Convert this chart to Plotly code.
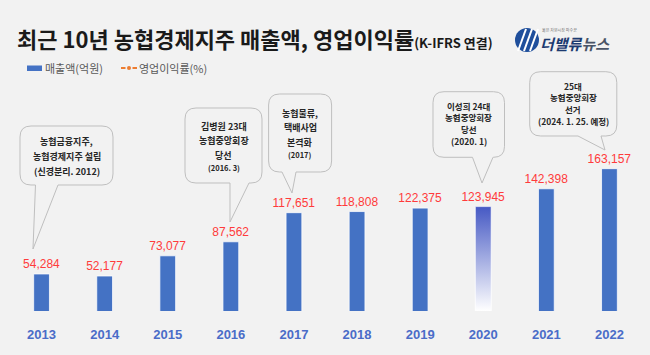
import plotly.graph_objects as go

# ---------------- data ----------------
years = [2013, 2014, 2015, 2016, 2017, 2018, 2019, 2020, 2021, 2022]
year_labels = [str(y) for y in years]
sales = [54284, 52177, 73077, 87562, 117651, 118808, 122375, 123945, 142398, 163157]
highlight_year = 2020

title_main = "최근 10년 농협경제지주 매출액, 영업이익률"
title_sub = "(K-IFRS 연결)"
legend_sales = "매출액(억원)"
legend_margin = "영업이익률(%)"

callout_texts = [
    ["농협금융지주,", "농협경제지주 설립", "(신경분리. 2012)"],
    ["김병원 23대", "농협중앙회장", "당선", "(2016. 3)"],
    ["농협물류,", "택배사업", "본격화", "(2017)"],
    ["이성희 24대", "농협중앙회장", "당선", "(2020. 1)"],
    ["25대", "농협중앙회장", "선거", "(2024. 1. 25. 예정)"],
]

# ---------------- layout constants ----------------
W, H = 650, 355
L, R, T, B = 10, 9, 60, 44
PW, PH = W - L - R, H - T - B
Y_MIN = 16000
PX_PER_UNIT = 0.0009672
Y_MAX = Y_MIN + PH / PX_PER_UNIT
BAR_W = 0.25
BG = "#f2f2f2"
BLUE = "#4472c4"
KR = "Noto Sans CJK KR"


def pp(x, y):
    """pixel (from top-left) -> paper coords"""
    return (x - L) / PW, (H - B - y) / PH


bar_colors = ["rgba(0,0,0,0)" if y == highlight_year else BLUE for y in years]

fig = go.Figure()
fig.add_trace(go.Bar(
    x=years, y=sales, width=BAR_W,
    marker=dict(color=bar_colors, line=dict(color="rgba(255,255,255,0.75)", width=1)),
    text=[f"{v:,}" for v in sales], textposition="outside", constraintext="none",
    textfont=dict(color="#ff3b3b", size=12, family="Liberation Sans Narrow, Arial Narrow, Liberation Sans, sans-serif"),
    cliponaxis=False, showlegend=False, name=legend_sales,
))

# gradient bar for highlighted year
hv = sales[years.index(highlight_year)]
fig.add_trace(go.Scatter(
    x=[highlight_year - BAR_W / 2, highlight_year + BAR_W / 2, highlight_year + BAR_W / 2,
       highlight_year - BAR_W / 2, highlight_year - BAR_W / 2],
    y=[Y_MIN, Y_MIN, hv, hv, Y_MIN],
    fill="toself", mode="lines", line=dict(color="rgba(255,255,255,0.6)", width=1),
    fillgradient=dict(type="vertical", colorscale=[[0, "#ffffff"], [1, "#4659c4"]]),
    showlegend=False, hoverinfo="skip",
))

shapes = []
annotations = []

# title
x0, y0 = pp(15, 38)
annotations.append(dict(
    x=x0, y=y0, xref="paper", yref="paper", xanchor="left", yanchor="middle", showarrow=False,
    text=f"<b>{title_main}</b><b><span style='font-size:13px'>{title_sub}</span></b>",
    font=dict(family=KR, size=22, color="#1a1a1a"),
))

# logo
cx, cy = 527, 40
a0 = pp(cx - 12, cy - 12); a1 = pp(cx + 12, cy + 12)
shapes.append(dict(type="circle", xref="paper", yref="paper", x0=a0[0], y0=a1[1], x1=a1[0], y1=a0[1],
                   fillcolor="#1f4f9c", line=dict(width=0)))
for dx in (-6, 0, 6):
    p0 = pp(cx + dx - 3, cy + 11); p1 = pp(cx + dx + 5, cy - 11)
    shapes.append(dict(type="line", xref="paper", yref="paper", x0=p0[0], y0=p0[1], x1=p1[0], y1=p1[1],
                       line=dict(color="white", width=2)))
lx, ly = pp(539, 43)
annotations.append(dict(
    x=lx, y=ly, xref="paper", yref="paper", xanchor="left", yanchor="middle", showarrow=False,
    borderpad=0,
    text="<b><i>더밸류<span style='color:#4a5466'>뉴스</span></i></b>",
    font=dict(family=KR, size=15, color="#1c3a70"),
))
tx, ty = pp(541, 29.5)
annotations.append(dict(
    x=tx, y=ty, xref="paper", yref="paper", xanchor="left", yanchor="middle", showarrow=False,
    borderpad=0,
    text="옳은 자본시장 파수꾼", font=dict(family=KR, size=4, color="#777777"),
))

# legend (drawn)
r0 = pp(27, 65.5); r1 = pp(42, 71)
shapes.append(dict(type="rect", xref="paper", yref="paper", x0=r0[0], y0=r1[1], x1=r1[0], y1=r0[1],
                   fillcolor=BLUE, line=dict(width=0)))
t0 = pp(43, 68)
annotations.append(dict(x=t0[0], y=t0[1], xref="paper", yref="paper", xanchor="left", yanchor="middle",
                        showarrow=False, text=legend_sales, font=dict(family=KR, size=11, color="#595959")))
for xa, xb in ((121, 125.5), (132.5, 137)):
    q0 = pp(xa, 68); q1 = pp(xb, 68)
    shapes.append(dict(type="line", xref="paper", yref="paper", x0=q0[0], y0=q0[1], x1=q1[0], y1=q1[1],
                       line=dict(color="#ed7d31", width=2)))
c0 = pp(127, 66); c1 = pp(131, 70)
shapes.append(dict(type="circle", xref="paper", yref="paper", x0=c0[0], y0=c1[1], x1=c1[0], y1=c0[1],
                   fillcolor="#ed7d31", line=dict(width=0)))
t1 = pp(137, 68)
annotations.append(dict(x=t1[0], y=t1[1], xref="paper", yref="paper", xanchor="left", yanchor="middle",
                        showarrow=False, text=legend_margin, font=dict(family=KR, size=11, color="#595959")))

# callouts: box (x0,y0,x1,y1), tail base (a,b), tip, line y positions, font sizes
callout_geo = [
    dict(box=(20, 126, 113, 185), tail=(35.5, 58), tip=(33, 249), ys=(141.7, 156, 171), fs=(9, 9, 9)),
    dict(box=(185, 108, 262, 183), tail=(230, 249), tip=(230, 222), ys=(126.7, 140.7, 155, 167.7), fs=(9, 9, 9, 7.5)),
    dict(box=(268.6, 94, 331.6, 172), tail=(282, 296), tip=(292, 193), ys=(113, 127.7, 142.3, 154.7), fs=(9, 9, 9, 7.5)),
    dict(box=(433, 91.7, 504.5, 157.3), tail=(472.5, 493), tip=(482, 183), ys=(106, 117.3, 129, 141), fs=(8.5, 8.5, 8.5, 8.5)),
    dict(box=(529.7, 71.7, 616.8, 136), tail=(578, 601), tip=(605, 150), ys=(85.7, 97.3, 108.7, 120.7), fs=(8.5, 8.5, 8.5, 8.5)),
]


def P(x, y):
    a, b = pp(x, y)
    return f"{a:.5f},{b:.5f}"


for geo, lines in zip(callout_geo, callout_texts):
    bx0, by0, bx1, by1 = geo["box"]
    ta, tb = geo["tail"]
    tpx, tpy = geo["tip"]
    r = 11
    path = (f"M{P(bx0 + r, by0)} L{P(bx1 - r, by0)} Q{P(bx1, by0)} {P(bx1, by0 + r)} "
            f"L{P(bx1, by1 - r)} Q{P(bx1, by1)} {P(bx1 - r, by1)} L{P(tb, by1)} L{P(tpx, tpy)} "
            f"L{P(ta, by1)} L{P(bx0 + r, by1)} Q{P(bx0, by1)} {P(bx0, by1 - r)} "
            f"L{P(bx0, by0 + r)} Q{P(bx0, by0)} {P(bx0 + r, by0)} Z")
    shapes.append(dict(type="path", xref="paper", yref="paper", path=path,
                       fillcolor=BG, line=dict(color="#bfbfbf", width=1)))
    cxp = (bx0 + bx1) / 2
    for line, ly_, fs in zip(lines, geo["ys"], geo["fs"]):
        px_, py_ = pp(cxp, ly_)
        annotations.append(dict(x=px_, y=py_, xref="paper", yref="paper", xanchor="center", yanchor="middle",
                                showarrow=False, borderpad=0, text=f"<b>{line}</b>",
                                font=dict(family=KR, size=fs, color="#262626")))

fig.update_layout(
    width=W, height=H, margin=dict(l=L, r=R, t=T, b=B),
    paper_bgcolor=BG, plot_bgcolor=BG,
    shapes=shapes, annotations=annotations, showlegend=False,
    xaxis=dict(range=[years[0] - 0.5, years[-1] + 0.5], tickvals=years, ticktext=year_labels,
               showgrid=False, zeroline=False, showline=False, ticks="",
               ticklabelstandoff=14,
               tickfont=dict(family="Liberation Sans, Arial, sans-serif", size=13, color="#4a6cc8", weight="bold")),
    yaxis=dict(range=[Y_MIN, Y_MAX], visible=False, showgrid=False, zeroline=False),
)

fig.write_html("out.html", config={"displayModeBar": False},
               post_script="document.body.style.margin='0';document.body.style.background='#f2f2f2';")
